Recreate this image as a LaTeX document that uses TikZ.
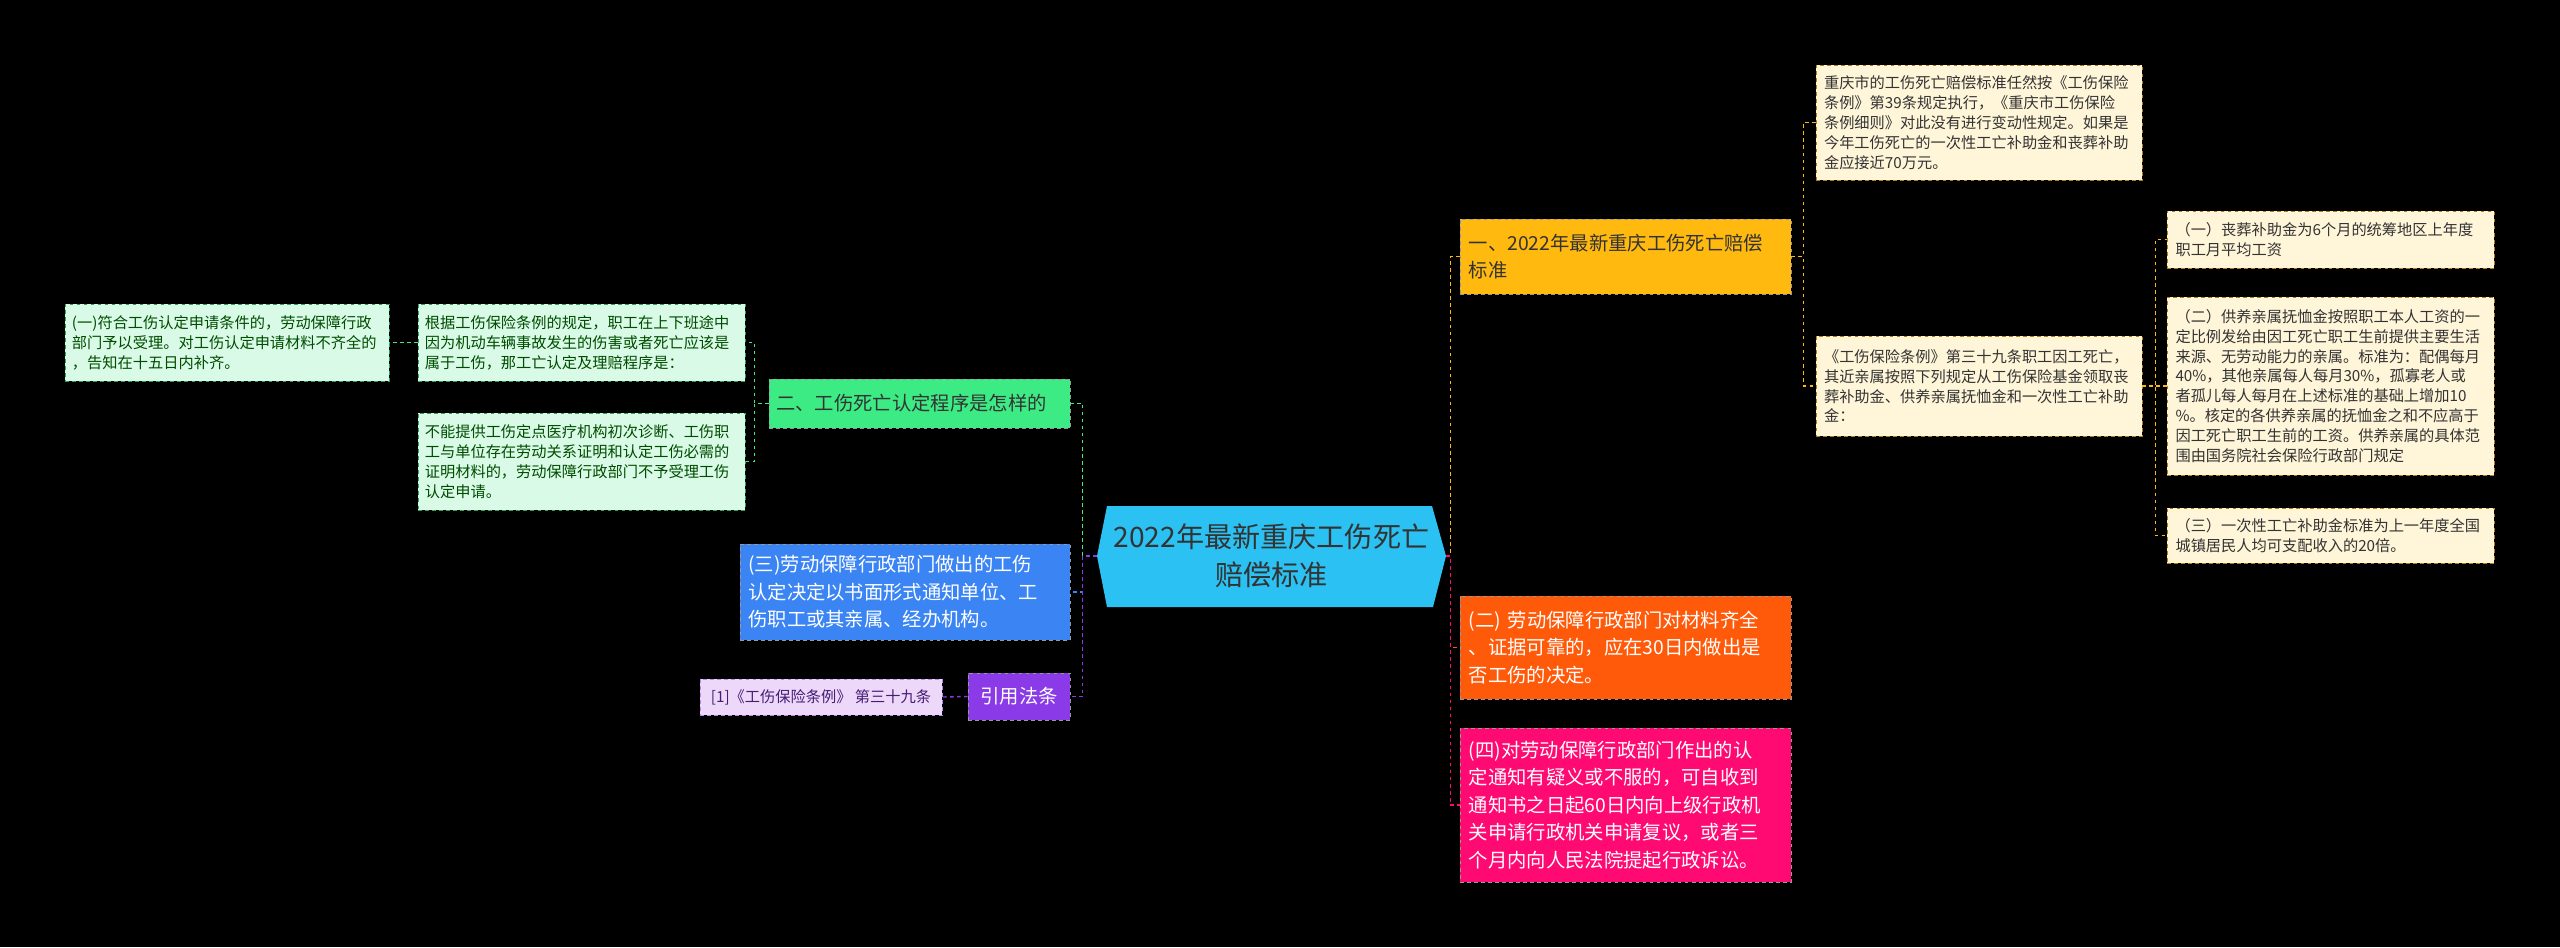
\documentclass[tikz,border=0pt]{standalone}
\usepackage{fontspec}
\setmainfont{Noto Sans CJK SC}
\definecolor{cgold}{HTML}{FFB90F}
\definecolor{corange}{HTML}{FF5A0A}
\definecolor{cpink}{HTML}{FF0A73}
\definecolor{cgreen}{HTML}{3DEB84}
\definecolor{cblue}{HTML}{3A84F4}
\definecolor{cpurple}{HTML}{8A3AE6}
\definecolor{ccenter}{HTML}{2BC1F2}
\definecolor{lyellow}{HTML}{FFF5D8}
\definecolor{lgreen}{HTML}{D9FAE6}
\definecolor{lpurple}{HTML}{EDD8FA}
\tikzset{
 x=0.03cm,y=-0.03cm,
 base/.style={rectangle,draw,dashed,line width=0.6pt,inner sep=0pt,align=left},
 small/.style={base,font=\fontsize{13pt}{17pt}\selectfont},
 ybox/.style={small,fill=lyellow,draw=cgold!70!black,text=black!80},
 gbox/.style={small,fill=lgreen,draw=cgreen!70!black,text=green!30!black},
 pbox/.style={small,fill=lpurple,draw=cpurple!60,text=cpurple!50!black},
 mid/.style={base,font=\fontsize{16.5pt}{23.5pt}\selectfont,draw=white!60!black},
 conn/.style={dashed,line width=1.2pt},
}
\begin{document}
\begin{tikzpicture}
\fill[black] (0,0) rectangle (2560,947);
\useasboundingbox (0,0) rectangle (2560,947);
% center
\fill[ccenter] (1097,556) -- (1107,506) -- (1432,506) -- (1446,556) -- (1433,607) -- (1107,607) -- cycle;
\node[minimum width=10.47cm,minimum height=3.03cm,inner sep=0pt,align=center,font=\fontsize{24pt}{32pt}\selectfont,text=black!80] (c) at (1271.5,556) {2022年最新重庆工伤死亡\\赔偿标准};
% right colored
\node[mid,fill=cgold,text=black!80,minimum width=9.93cm,minimum height=2.25cm,text width=9.4cm] (y1) at (1625.5,256.5) {一、2022年最新重庆工伤死亡赔偿\\标准};
\node[mid,fill=corange,text=white,minimum width=9.93cm,minimum height=3.09cm,text width=9.4cm] (o2) at (1625.5,647.5) {(二) 劳动保障行政部门对材料齐全\\、证据可靠的，应在30日内做出是\\否工伤的决定。};
\node[mid,fill=cpink,text=white,minimum width=9.93cm,minimum height=4.62cm,text width=9.4cm] (p4) at (1625.5,805) {(四)对劳动保障行政部门作出的认\\定通知有疑义或不服的，可自收到\\通知书之日起60日内向上级行政机\\关申请行政机关申请复议，或者三\\个月内向人民法院提起行政诉讼。};
% yellow detail
\node[ybox,minimum width=9.78cm,minimum height=3.45cm,text width=9.3cm] (a) at (1979,122.5) {重庆市的工伤死亡赔偿标准任然按《工伤保险\\条例》第39条规定执行，《重庆市工伤保险\\条例细则》对此没有进行变动性规定。如果是\\今年工伤死亡的一次性工亡补助金和丧葬补助\\金应接近70万元。};
\node[ybox,minimum width=9.78cm,minimum height=3.0cm,text width=9.3cm] (b) at (1979,386) {《工伤保险条例》第三十九条职工因工死亡，\\其近亲属按照下列规定从工伤保险基金领取丧\\葬补助金、供养亲属抚恤金和一次性工亡补助\\金：};
\node[ybox,minimum width=9.81cm,minimum height=1.71cm,text width=9.3cm] (r1) at (2330.5,239.5) {（一）丧葬补助金为6个月的统筹地区上年度\\职工月平均工资};
\node[ybox,minimum width=9.81cm,minimum height=5.34cm,text width=9.3cm] (r2) at (2330.5,386) {（二）供养亲属抚恤金按照职工本人工资的一\\定比例发给由因工死亡职工生前提供主要生活\\来源、无劳动能力的亲属。标准为：配偶每月\\40\%，其他亲属每人每月30\%，孤寡老人或\\者孤儿每人每月在上述标准的基础上增加10\\\%。核定的各供养亲属的抚恤金之和不应高于\\因工死亡职工生前的工资。供养亲属的具体范\\围由国务院社会保险行政部门规定};
\node[ybox,minimum width=9.81cm,minimum height=1.65cm,text width=9.3cm] (r3) at (2330.5,535.5) {（三）一次性工亡补助金标准为上一年度全国\\城镇居民人均可支配收入的20倍。};
% left colored
\node[mid,fill=cgreen,text=black!80,minimum width=9.03cm,minimum height=1.47cm,text width=8.6cm] (g) at (919.5,403.5) {二、工伤死亡认定程序是怎样的};
\node[mid,fill=cblue,text=white,minimum width=9.9cm,minimum height=2.88cm,text width=9.4cm] (bl) at (905,592) {(三)劳动保障行政部门做出的工伤\\认定决定以书面形式通知单位、工\\伤职工或其亲属、经办机构。};
\node[mid,fill=cpurple,text=white,minimum width=3.06cm,minimum height=1.41cm,align=center] (pu) at (1019,696.5) {引用法条};
\node[pbox,minimum width=7.26cm,minimum height=1.08cm,align=center] (ref) at (821,697) {[1]《工伤保险条例》 第三十九条};
% green details
\node[gbox,minimum width=9.81cm,minimum height=2.31cm,text width=9.4cm] (l2) at (581.5,342.5) {根据工伤保险条例的规定，职工在上下班途中\\因为机动车辆事故发生的伤害或者死亡应该是\\属于工伤，那工亡认定及理赔程序是：};
\node[gbox,minimum width=9.81cm,minimum height=2.91cm,text width=9.4cm] (l3) at (581.5,461.5) {不能提供工伤定点医疗机构初次诊断、工伤职\\工与单位存在劳动关系证明和认定工伤必需的\\证明材料的，劳动保障行政部门不予受理工伤\\认定申请。};
\node[gbox,minimum width=9.72cm,minimum height=2.31cm,text width=9.3cm] (l1) at (227,342.5) {(一)符合工伤认定申请条件的，劳动保障行政\\部门予以受理。对工伤认定申请材料不齐全的\\，告知在十五日内补齐。};
% connectors right
\draw[conn,cgold] (c.east) -- ++(4,0) |- (y1.west);
\draw[conn,corange] (c.east) -- ++(4,0) |- (o2.west);
\draw[conn,cpink] (c.east) -- ++(4,0) |- (p4.west);
\draw[conn,cgold] (y1.east) -- ++(12,0) |- (a.west);
\draw[conn,cgold] (y1.east) -- ++(12,0) |- (b.west);
\draw[conn,cgold] (b.east) -- ++(13,0) |- (r1.west);
\draw[conn,cgold] (b.east) -- ++(13,0) |- (r2.west);
\draw[conn,cgold] (b.east) -- ++(13,0) |- (r3.west);
% connectors left
\draw[conn,cgreen] (c.west) -- ++(-14,0) |- (g.east);
\draw[conn,cblue] (c.west) -- ++(-14,0) |- (bl.east);
\draw[conn,cpurple] (c.west) -- ++(-14,0) |- (pu.east);
\draw[conn,cgreen] (g.west) -- ++(-14,0) |- (l2.east);
\draw[conn,cgreen] (g.west) -- ++(-14,0) |- (l3.east);
\draw[conn,cgreen] (l2.west) -- (l1.east);
\draw[conn,cpurple] (pu.west) -- (ref.east);
\end{tikzpicture}
\end{document}
